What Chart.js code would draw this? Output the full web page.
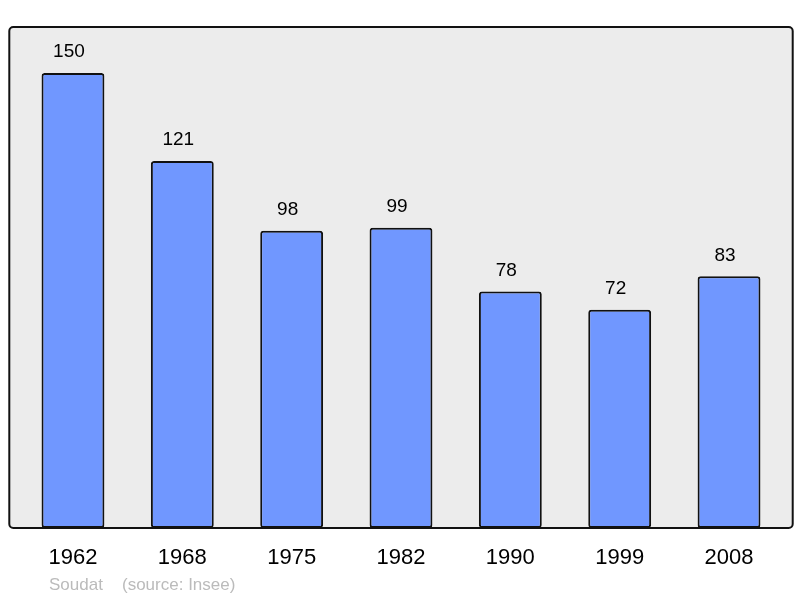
<!DOCTYPE html>
<html>
<head>
<meta charset="utf-8">
<script src="https://cdn.jsdelivr.net/npm/chart.js@4"></script>
<style>
  html, body { margin: 0; padding: 0; background: #fff; }
  #wrap { width: 800px; height: 598px; }
</style>
</head>
<body>
<div id="wrap"><canvas id="myChart" width="800" height="598"></canvas></div>
<script>
// Population de Soudat (source Insee)
const annees = ['1962', '1968', '1975', '1982', '1990', '1999', '2008'];
const population = [150, 121, 98, 99, 78, 72, 83];
const yMax = 165.2;

const police = '"Liberation Sans", Arial, sans-serif';

// fond gris + cadre autour de la zone du graphique
const fondCadre = {
  id: 'fondCadre',
  beforeDraw(chart) {
    const { ctx, chartArea: a } = chart;
    const x = a.left - 9, y = a.top, w = a.right - a.left + 18, h = a.bottom - a.top;
    ctx.save();
    ctx.beginPath();
    ctx.roundRect(x, y, w, h, 4);
    ctx.fillStyle = '#ececec';
    ctx.fill();
    ctx.restore();
  },
  afterDatasetsDraw(chart) {
    const { ctx, chartArea: a } = chart;
    const x = a.left - 9, y = a.top, w = a.right - a.left + 18, h = a.bottom - a.top;
    ctx.save();
    ctx.beginPath();
    ctx.roundRect(x, y, w, h, 4);
    ctx.lineWidth = 2;
    ctx.strokeStyle = '#111';
    ctx.stroke();

    // valeurs au-dessus des barres
    const meta = chart.getDatasetMeta(0);
    ctx.fillStyle = '#000';
    ctx.font = '19px ' + police;
    ctx.textAlign = 'center';
    ctx.textBaseline = 'middle';
    meta.data.forEach((bar, i) => {
      ctx.fillText(String(population[i]), bar.x - 4, bar.y - 21);
    });

    // source
    ctx.fillStyle = '#bbbbbb';
    ctx.font = '17px ' + police;
    ctx.textAlign = 'left';
    ctx.textBaseline = 'alphabetic';
    ctx.fillText('Soudat', 49, 590);
    ctx.fillText('(source: Insee)', 122, 590);
    ctx.restore();
  }
};

const ctx = document.getElementById('myChart');

const myChart = new Chart(ctx, {
  type: 'bar',
  data: {
    labels: annees,
    datasets: [{
      data: population,
      backgroundColor: '#7097ff',
      borderColor: '#111',
      borderWidth: 2,
      borderRadius: 3,
      borderSkipped: false,
      barPercentage: 0.575,
      categoryPercentage: 1
    }]
  },
  options: {
    responsive: false,
    animation: false,
    devicePixelRatio: 1,
    layout: { padding: { top: 27, left: 18.3, right: 16.3, bottom: 0 } },
    plugins: {
      legend: { display: false },
      tooltip: { enabled: false }
    },
    scales: {
      x: {
        grid: { display: false },
        border: { display: false },
        ticks: {
          color: '#000',
          padding: 9,
          font: { family: police, size: 22 },
          maxRotation: 0
        },
        afterFit(s) { s.height = 70; }
      },
      y: {
        display: false,
        min: 0,
        max: yMax
      }
    }
  },
  plugins: [fondCadre]
});
</script>
</body>
</html>
